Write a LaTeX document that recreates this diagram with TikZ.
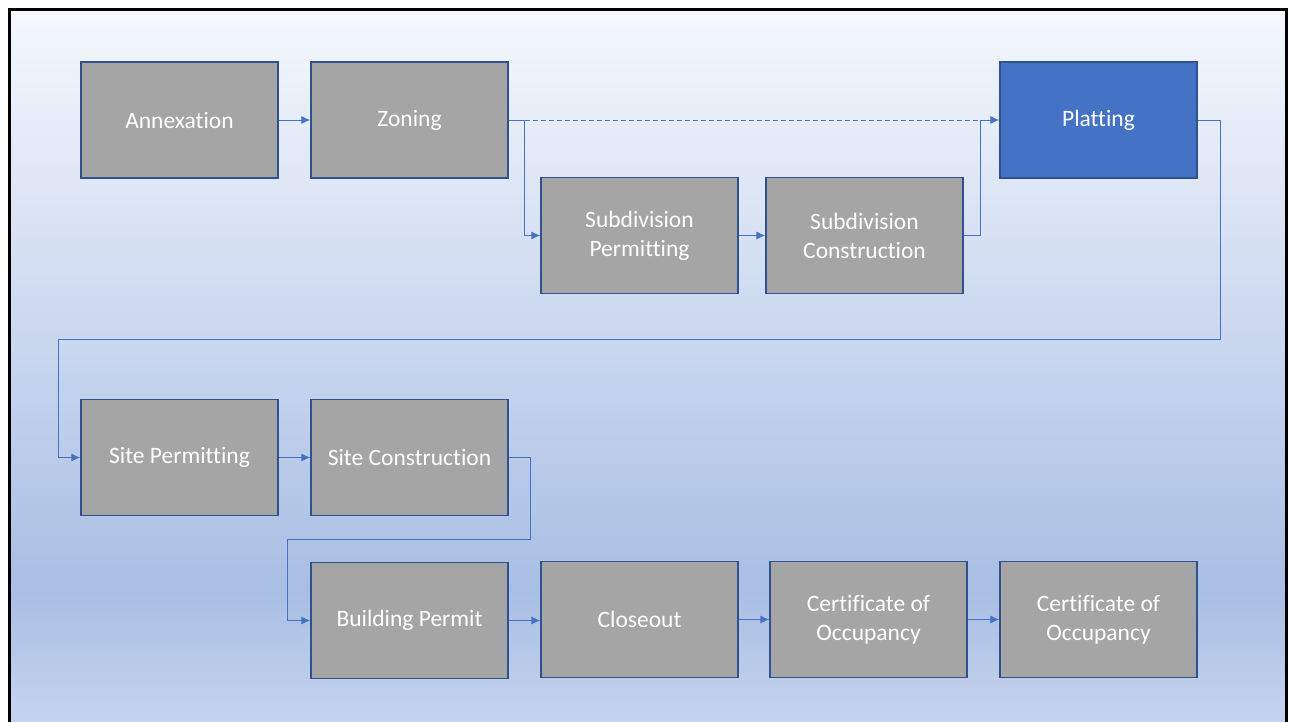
\documentclass[tikz,border=0pt]{standalone}
\usepackage{fontspec}
\setmainfont[Ligatures={NoCommon,NoContextual}, RawFeature={-liga;-clig;-calt;-dlig}]{Carlito}
\usetikzlibrary{arrows.meta}
\definecolor{boxgray}{HTML}{A5A5A5}
\definecolor{boxedge}{HTML}{2F528F}
\definecolor{accent}{HTML}{4472C4}
\definecolor{bgtop}{HTML}{F5F8FD}
\definecolor{bgmid}{HTML}{A9BEE4}
\definecolor{bgbot}{HTML}{C6D4EE}
\tikzset{
  stepbox/.style={rectangle, fill=boxgray, draw=boxedge, line width=1.3pt,
    minimum width=197pt, minimum height=116pt, inner sep=0pt, text=white,
    align=center, font=\fontsize{23.5}{29}\selectfont},
  activebox/.style={stepbox, fill=accent},
  conn/.style={draw=accent, line width=1pt, -{Latex[length=9pt,width=8pt]}},
  plainconn/.style={draw=accent, line width=1pt},
  dashconn/.style={draw=accent, line width=1pt, dash pattern=on 5pt off 3pt}
}
\begin{document}
\begin{tikzpicture}[x=1pt,y=-1pt]
\useasboundingbox (0,0) rectangle (1291,721);
\fill[white] (0,0) rectangle (1291,721);
\shade[top color=bgtop, bottom color=bgmid] (9,9) rectangle (1286,590);
\shade[top color=bgmid, bottom color=bgbot] (9,589.5) rectangle (1286,722);
\draw[black, line width=3pt] (9.5,9.5) rectangle (1286,740);

\node[stepbox] (annex) at (179.5,120) {Annexation};
\node[stepbox] (zoning) at (409.5,120) {Zoning};
\node[stepbox] (subperm) at (639.5,235.5) {Subdivision\\Permitting};
\node[stepbox] (subcon) at (864.5,235.5) {Subdivision\\Construction};
\node[activebox] (plat) at (1098.5,120) {Platting};
\node[stepbox] (siteperm) at (179.5,457.5) {Site Permitting};
\node[stepbox] (sitecon) at (409.5,457.5) {Site Construction};
\node[stepbox] (bldperm) at (409.5,620.5) {Building Permit};
\node[stepbox] (closeout) at (639.5,619.5) {Closeout};
\node[stepbox] (cert1) at (868.5,619.5) {Certificate of\\Occupancy};
\node[stepbox] (cert2) at (1098.5,619.5) {Certificate of\\Occupancy};

\coordinate (zj) at ([xshift=16pt]zoning.east);
\coordinate (sj) at ([xshift=17pt]subcon.east);
\coordinate (pj) at ([xshift=23pt]plat.east);
\coordinate (pjlow) at (pj |- 0,339);
\coordinate (lowleft) at (58,339);
\coordinate (scj) at ([xshift=22pt]sitecon.east);
\coordinate (scjlow) at (scj |- 0,539);
\coordinate (midleft) at (287,539);

\draw[conn] (annex.east) -- (zoning.west);
\draw[plainconn] (zoning.east) -- (zj);
\draw[conn] (zj) |- (subperm.west);
\draw[dashconn] (zj) -- (sj |- zj);
\draw[conn] (subperm.east) -- (subcon.west);
\draw[conn] (subcon.east) -- (sj) |- (plat.west);
\draw[conn] (plat.east) -- (pj) -- (pjlow) -- (lowleft) |- (siteperm.west);
\draw[conn] (siteperm.east) -- (sitecon.west);
\draw[conn] (sitecon.east) -- (scj) -- (scjlow) -- (midleft) |- (bldperm.west);
\draw[conn] (bldperm.east) -- (bldperm.east -| closeout.west);
\draw[conn] (closeout.east) -- (cert1.west);
\draw[conn] (cert1.east) -- (cert2.west);
\end{tikzpicture}
\end{document}
